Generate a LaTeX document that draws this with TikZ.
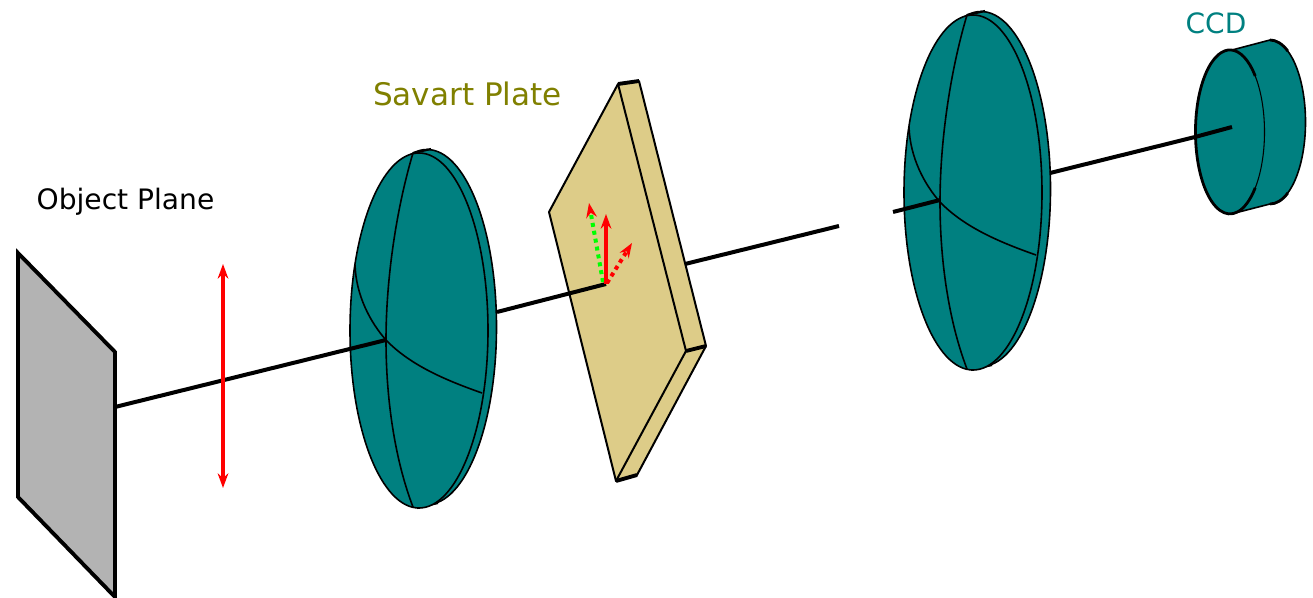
\documentclass[tikz,border=0pt]{standalone}
\usepackage{fontspec}
\setmainfont{DejaVu Sans}
\usetikzlibrary{arrows.meta}
\definecolor{lensteal}{HTML}{008080}
\definecolor{plategold}{HTML}{DDCC88}
\definecolor{planegray}{HTML}{B3B3B3}
\definecolor{labelolive}{HTML}{808000}
\tikzset{
  px/.style={x=0.75pt,y=-0.75pt},
  axisline/.style={draw=black,line width=3pt,line cap=butt},
  edgeline/.style={draw=black,line width=1.5pt,line join=round},
  thickedge/.style={draw=black,line width=2.9pt},
  thinline/.style={draw=black,line width=1.2pt},
  pol/.style={line width=2.8pt,red,-{Stealth[length=11pt,width=8pt]}},
  poldot/.style={line width=3pt,dash pattern=on 3pt off 3pt,-{Stealth[length=11pt,width=8pt,color=red,fill=red]}},
  lenspic/.pic={
    \draw[thinline,fill=lensteal] (427,327) ellipse [x radius=69.5,y radius=177.5];
    \draw[thinline,line width=1.6pt] (413,153) -- (431,149);
    \draw[thinline,line width=1.6pt] (417,508) -- (438,503);
    \draw[thinline,fill=lensteal] (419,330.5) ellipse [x radius=69,y radius=177.5];
    \draw[thinline] (413,153) .. controls (396,210) and (386,280) .. (386,340)
      .. controls (386,400) and (395,460) .. (413,507);
    \draw[thinline] (355,265) .. controls (356,295) and (370,322) .. (386,340)
      .. controls (410,365) and (445,380) .. (482,393);
  }
}
\begin{document}
\begin{tikzpicture}[px]
\useasboundingbox (0,0) rectangle (1313,598);
% axis anchor points
\coordinate (objAxis) at (115,407);
\coordinate (lensOneCentre) at (386,340);
\coordinate (lensOneBack) at (497,312);
\coordinate (plateCentre) at (606,284);
\coordinate (plateBack) at (685,264);
\coordinate (gapStart) at (839,226);
\coordinate (gapEnd) at (893,212);
\coordinate (lensTwoCentre) at (940,200);
\coordinate (lensTwoBack) at (1050,173);
\coordinate (ccdEntry) at (1195,137);
\coordinate (ccdCentre) at (1232,127);
% object plane
\draw[fill=planegray,line width=2.9pt,line join=miter] (18,253) -- (115,352) -- (115,597) -- (18,497) -- cycle;
% polariser arrow
\coordinate (polTop) at (223,264);
\coordinate (polBot) at (223,488);
% lens 1
\pic at (0,0) {lenspic};
\draw[axisline] (objAxis) -- (lensOneCentre);
\draw[line width=2.6pt,red,{Stealth[length=11pt,width=8pt]}-{Stealth[length=11pt,width=8pt]}] (polTop) -- (polBot);
% savart plate
\draw[edgeline,fill=plategold] (618,84) -- (639,81) -- (706,346) -- (637,475) -- (616,481) -- (549,212) -- cycle;
\draw[edgeline] (618,84) -- (686,351) -- (616,481);
\draw[thickedge] (618,84) -- (639,81);
\draw[thickedge] (686,351) -- (706,346);
\draw[thickedge] (616,481) -- (637,475);
\draw[axisline] (lensOneBack) -- (plateCentre);
\draw[axisline] (plateBack) -- (gapStart);
\coordinate (greenTip) at (589,203);
\coordinate (redTip) at (606,214);
\coordinate (dotTip) at (632,243);
\draw[poldot,green] (603,282) -- (greenTip);
\draw[poldot,red] (607,283) -- (dotTip);
\draw[pol] (plateCentre) -- (redTip);
% lens 2
\pic at (554,-138) {lenspic};
\draw[axisline] (gapEnd) -- (lensTwoCentre);
\draw[axisline] (lensTwoBack) -- (ccdEntry);
% ccd
\draw[thinline,fill=lensteal] (1232,50) -- (1270,40) arc[start angle=-90,end angle=90,x radius=35.5,y radius=82] -- (1235,213) -- cycle;
\draw[draw=black,line width=0.8pt,fill=lensteal] (1230,132) ellipse [x radius=34.5,y radius=82];
\draw[line width=2.1pt] (1255.2,76) arc[start angle=-43,end angle=-317,x radius=34.5,y radius=82];
\draw[line width=2.1pt] (1270,40) arc[start angle=-90,end angle=-60,x radius=35.5,y radius=82];
\draw[line width=2.1pt] (1287.8,193) arc[start angle=60,end angle=90,x radius=35.5,y radius=82];
\draw[axisline] (ccdEntry) -- (ccdCentre);
% labels
\node[font=\fontsize{21.1}{25}\selectfont,anchor=center] (objLabel) at (125.5,202) {Object Plane};
\node[font=\fontsize{23.3}{28}\selectfont,text=labelolive,anchor=center] (savartLabel) at (467.5,93.5) {Savart Plate};
\node[font=\fontsize{21}{25}\selectfont,text=lensteal,anchor=center] (ccdLabel) at (1216,23.5) {CCD};
\end{tikzpicture}
\end{document}
